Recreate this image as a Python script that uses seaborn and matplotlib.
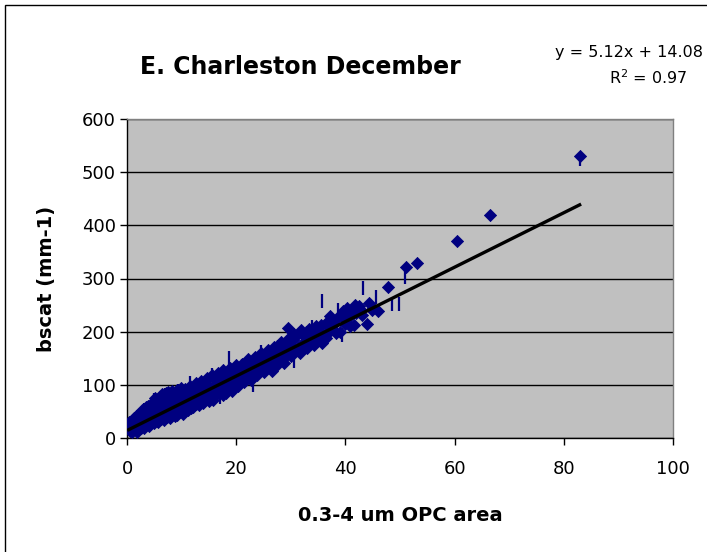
import matplotlib
matplotlib.use("Agg")
import matplotlib.pyplot as plt
import seaborn as sns
import pandas as pd
from matplotlib.patches import Rectangle

# ---- data ----
opc_area = [0.3, 0.5, 0.6, 0.8, 1.0, 1.1, 1.3, 1.5, 1.6, 1.8, 2.0, 2.1, 2.3, 2.5, 2.6, 2.8,
            3.0, 3.1, 3.3, 3.5, 3.6, 3.8, 4.0, 4.1, 4.3, 4.5, 4.6, 4.8, 5.0, 5.1, 5.3, 5.5,
            5.6, 5.8, 6.0, 6.2, 6.3, 6.5, 6.7, 6.9, 7.0, 7.2, 7.4, 7.6, 7.8, 8.0, 8.2, 8.4,
            8.6, 8.8, 9.0, 9.2, 9.4, 9.6, 9.8, 10.0, 10.2, 10.4, 10.6, 10.8, 11.0, 11.3,
            11.5, 11.7, 12.0, 12.2, 12.5, 12.7, 13.0, 13.2, 13.5, 13.7, 14.0, 14.2, 14.5,
            14.8, 15.0, 15.2, 15.5, 15.8, 16.0, 16.3, 16.5, 16.8, 17.0, 17.3, 17.5, 17.8,
            18.0, 18.3, 18.6, 18.9, 19.2, 19.5, 19.8, 20.0, 20.3, 20.6, 20.9, 21.2, 21.5,
            21.8, 22.1, 22.4, 22.7, 23.0, 23.3, 23.6, 23.9, 24.2, 24.5, 24.8, 25.1, 25.4,
            25.7, 26.0, 26.3, 26.6, 26.9, 27.2, 27.5, 27.8, 28.1, 28.4, 28.7, 29.0, 29.5,
            29.8, 30.1, 30.4, 30.7, 31.0, 31.3, 31.6, 32.0, 32.3, 32.6, 33.0, 33.4, 33.8,
            34.2, 34.6, 35.0, 35.4, 35.8, 36.2, 36.6, 37.0, 37.5, 38.0, 38.5, 39.0, 39.5,
            40.0, 40.3, 40.7, 41.2, 41.5, 42.0, 42.5, 43.0, 43.9, 44.3, 45.0, 46.0, 47.8,
            51.1, 53.1, 60.4, 66.5, 82.9,
            0.4, 0.9, 1.2, 1.7, 1.9, 2.2, 2.7, 3.2, 3.4, 3.9, 4.2, 4.4, 4.9, 5.2, 5.7, 6.1,
            6.4, 6.8, 7.1, 7.5, 7.9, 8.3, 8.7, 9.1, 9.5, 9.9, 10.3, 10.7, 11.1, 11.6, 12.1,
            12.6, 13.1, 13.6, 14.1, 14.6, 15.1, 15.6, 16.1, 16.6, 17.1, 17.6, 18.1, 18.8,
            19.3, 19.9, 20.4, 21.0, 21.6, 22.2, 22.8, 23.4, 24.0, 24.6, 25.2, 25.8, 26.4,
            27.0, 27.6, 28.2, 28.8, 29.4, 30.0, 30.6, 31.2, 31.8, 32.4, 33.2, 34.0, 34.8,
            35.6, 36.4, 37.2, 38.2, 39.2, 40.0, 40.9, 41.8, 42.8, 44.8]
bscat = [18, 25, 14, 22, 30, 17, 24, 33, 20, 27, 15, 35, 26, 40, 19, 31,
         44, 24, 36, 28, 48, 33, 22, 42, 37, 55, 30, 46, 38, 68, 44, 32,
         52, 71, 41, 58, 36, 49, 64, 45, 75, 55, 40, 62, 50, 68, 46, 58,
         77, 52, 64, 43, 70, 60, 82, 55, 67, 76, 50, 72, 62, 85,
         68, 57, 78, 70, 90, 64, 80, 72, 95, 76, 66, 88, 82,
         100, 78, 92, 86, 72, 98, 90, 108, 84, 96, 105, 80, 112,
         100, 92, 118, 104, 88, 115, 108, 125, 98, 120, 112, 132, 105,
         122, 116, 138, 110, 128, 120, 145, 118, 135, 128, 150, 124, 140,
         158, 133, 150, 126, 160, 145, 138, 168, 150, 175, 142, 162, 207,
         172, 155, 185, 165, 192, 170, 160, 198, 178, 190, 170, 205, 185,
         175, 210, 190, 200, 178, 215, 195, 220, 205, 215, 225, 200, 238,
         215, 245, 228, 240, 212, 236, 248, 232, 214, 254, 245, 238, 284,
         321, 329, 370, 419, 530,
         30, 12, 38, 42, 12, 46, 52, 18, 58, 60, 26, 64, 28, 76, 30, 78,
         82, 34, 84, 86, 38, 88, 42, 90, 48, 94, 46, 92, 52, 98, 58,
         104, 62, 108, 70, 112, 70, 118, 80, 122, 86, 128, 84, 132,
         96, 138, 100, 140, 112, 148, 118, 152, 124, 160, 134, 166, 138,
         172, 152, 180, 150, 186, 160, 196, 165, 204, 170, 190, 198, 182,
         212, 188, 230, 198, 230, 232, 210, 250, 240, 240]

# second series drawn with vertical dash markers
bar_area = [3.2, 5.0, 7.0, 7.9, 9.3, 11.5, 13.0, 15.5, 17.0, 18.7, 21.0, 23.0,
            24.5, 27.7, 30.5, 33.0, 33.9, 35.7, 38.6, 39.4, 43.2, 45.6, 48.5,
            49.8, 50.9, 82.9]
bar_bscat = [52, 72, 81, 77, 88, 103, 98, 118, 77, 150, 136, 100,
             162, 171, 145, 197, 209, 257, 241, 194, 282, 265, 252,
             252, 303, 525]

slope = 5.12
intercept = 14.08
r_squared = 0.97
fit_x = [0.3, 82.9]

title = "E. Charleston December"
xlabel = "0.3-4 um OPC area"
ylabel = "bscat (mm-1)"
xticks = [0, 20, 40, 60, 80, 100]
yticks = [0, 100, 200, 300, 400, 500, 600]

# ---- figure ----
plt.rcParams['font.family'] = ['DejaVu Sans']
W, H = 707, 552
fig = plt.figure(figsize=(W / 100, H / 100), dpi=100)
fig.patch.set_facecolor("white")

left, right, top, bottom = 127, 673, 119, 438
ax = fig.add_axes([left / W, 1 - bottom / H, (right - left) / W, (bottom - top) / H])
ax.set_facecolor("#C0C0C0")

pts = pd.DataFrame({"x": opc_area, "y": bscat})
bars = pd.DataFrame({"x": bar_area, "y": bar_bscat})
fit = pd.DataFrame({"x": fit_x, "y": [slope * v + intercept for v in fit_x]})

sns.scatterplot(data=bars, x="x", y="y", marker="|", s=90, color="#000080",
                linewidth=1.6, ax=ax, zorder=3, legend=False)
sns.scatterplot(data=pts, x="x", y="y", marker="D", s=38, color="#000080",
                edgecolor="#000080", linewidth=0.6, ax=ax, zorder=4, legend=False)
sns.lineplot(data=fit, x="x", y="y", color="black", linewidth=2.4, ax=ax, zorder=5)

ax.set_xlim(0, 100)
ax.set_ylim(0, 600)
ax.set_xticks(xticks)
ax.set_yticks(yticks)
ax.set_xticklabels([str(t) for t in xticks])
ax.set_yticklabels([str(t) for t in yticks])
ax.tick_params(axis="both", direction="out", length=5, width=1, color="black",
               labelsize=13, labelcolor="black")
ax.tick_params(axis="x", pad=11)
ax.tick_params(axis="y", pad=3)

ax.yaxis.grid(True, color="black", linewidth=1)
ax.xaxis.grid(False)
ax.set_axisbelow(True)

for s in ["left", "bottom"]:
    ax.spines[s].set_color("black")
    ax.spines[s].set_linewidth(1)
for s in ["top", "right"]:
    ax.spines[s].set_color("#808080")
    ax.spines[s].set_linewidth(1)

ax.set_xlabel(xlabel, fontsize=14, fontweight="bold")
ax.set_ylabel(ylabel, fontsize=14, fontweight="bold")
ax.xaxis.set_label_coords(0.5, (bottom - 506) / (bottom - top))
ax.yaxis.set_label_coords((56 - left) / (right - left), 0.5)

fig.text(300 / W, 1 - 67 / H, title, ha="center", va="center",
         fontsize=17, fontweight="bold")
fig.text(703 / W, 1 - 52 / H, f"y = {slope:.2f}x + {intercept:.2f}",
         ha="right", va="center", fontsize=11.5)
fig.text(648 / W, 1 - 78 / H, f"R$^2$ = {r_squared:.2f}",
         ha="center", va="center", fontsize=11.5)

# outer chart border (only left and top edges visible in the reference)
fig.patches.append(Rectangle((5 / W, -0.1), 1.2, 1.1 - 5 / H,
                             transform=fig.transFigure, fill=False,
                             edgecolor="black", linewidth=1))

fig.savefig("out.png", dpi=100)
